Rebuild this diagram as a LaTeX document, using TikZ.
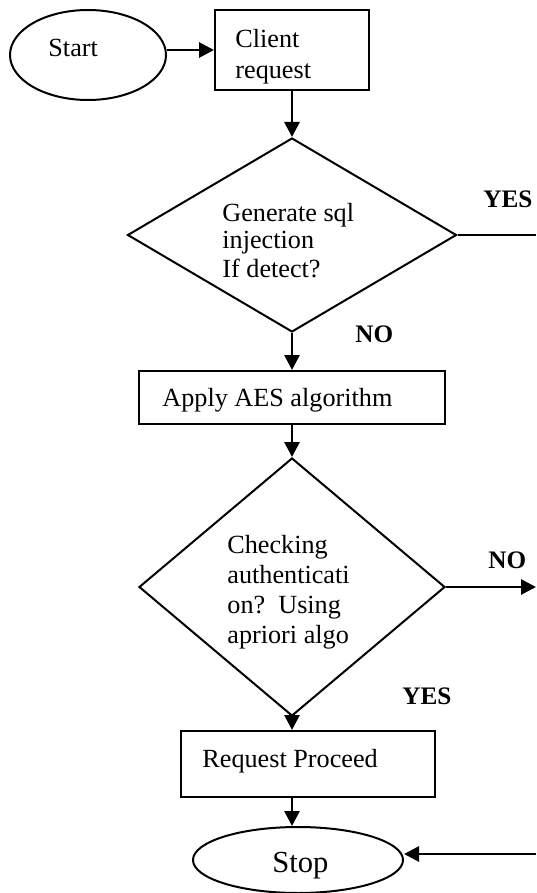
\documentclass[tikz,border=0pt]{standalone}
\usepackage{fontspec}
\setmainfont{Liberation Serif}
\usetikzlibrary{shapes.geometric,arrows.meta}

\begin{document}
\begin{tikzpicture}[x={(0.5pt,0)},y={(0,-0.5pt)},
  font=\fontsize{13.1}{15}\selectfont,
  shapebox/.style={draw,line width=1pt,inner sep=0pt},
  txt/.style={anchor=base west,inner sep=0pt},
  flow/.style={line width=1.4pt,-{Triangle[length=7.5pt,width=7.5pt]}},
  tag/.style={txt,font=\fontsize{12.6}{15}\selectfont\bfseries}]
  \useasboundingbox (0,0) rectangle (536,893);
  % shapes, in pixel units
  \node[shapebox,ellipse,minimum width=78pt,minimum height=45pt] (start) at (88,55) {};
  \node[shapebox,rectangle,minimum width=77pt,minimum height=40pt] (client) at (292,50) {};
  \node[shapebox,diamond,minimum width=164.5pt,minimum height=97pt] (detect) at (292,235) {};
  \node[shapebox,rectangle,minimum width=153pt,minimum height=26.5pt] (aes) at (292,397.5) {};
  \node[shapebox,diamond,minimum width=153pt,minimum height=129pt] (auth) at (292,587) {};
  \node[shapebox,rectangle,minimum width=127pt,minimum height=33pt] (proceed) at (308,764) {};
  \node[shapebox,ellipse,minimum width=105pt,minimum height=33pt] (stop) at (298,860) {};
  % texts, one line each
  \node[txt] (starttxt) at (48,57) {Start};
  \foreach \t [count=\i] in {Client,request}
    \node[txt] (clienttxt\i) at (235,48+31*\i-31) {\t};
  \foreach \t [count=\i] in {Generate sql,injection,If detect?}
    \node[txt] (detecttxt\i) at (222,221+28*\i-28) {\t};
  \node[txt] (aestxt) at (162,406) {Apply AES algorithm};
  \begin{scope}
    \clip (150,450) rectangle (440,648); % text box cuts the last line
    \foreach \t [count=\i] in {Checking,authenticati,on?~~Using,apriori algo}
      \node[txt] (authtxt\i) at (227,553+30*\i-30) {\t};
  \end{scope}
  \node[txt] (proceedtxt) at (202,767) {Request Proceed};
  \node[txt,font=\fontsize{15.3}{18}\selectfont] (stoptxt) at (272,872) {Stop};
  % branch labels
  \node[tag] (yes1) at (483,208) {YES};
  \node[tag] (no1) at (355,342) {NO};
  \node[tag] (no2) at (488,568) {NO};
  \node[tag] (yes2) at (402,704) {YES};
  % connectors
  \coordinate (yesout) at (536,235);
  \coordinate (noout) at (536,587);
  \coordinate (stopin) at (536,854);
  \draw[flow] (start.east |- client.west) -- (client.west);
  \draw[flow] (client.south) -- (detect.north);
  \draw[flow] (detect.south) -- (aes.north);
  \draw[flow] (aes.south) -- (auth.north);
  \draw[flow] (auth.south) -- (auth.south |- proceed.north);
  \draw[flow] (auth.south |- proceed.south) -- (auth.south |- stop.north);
  \draw[flow] (auth.east) -- (noout);
  \draw[line width=1.4pt] (detect.east) -- (yesout);
  \draw[flow] (stopin) -- (stop.east |- stopin);
\end{tikzpicture}
\end{document}
